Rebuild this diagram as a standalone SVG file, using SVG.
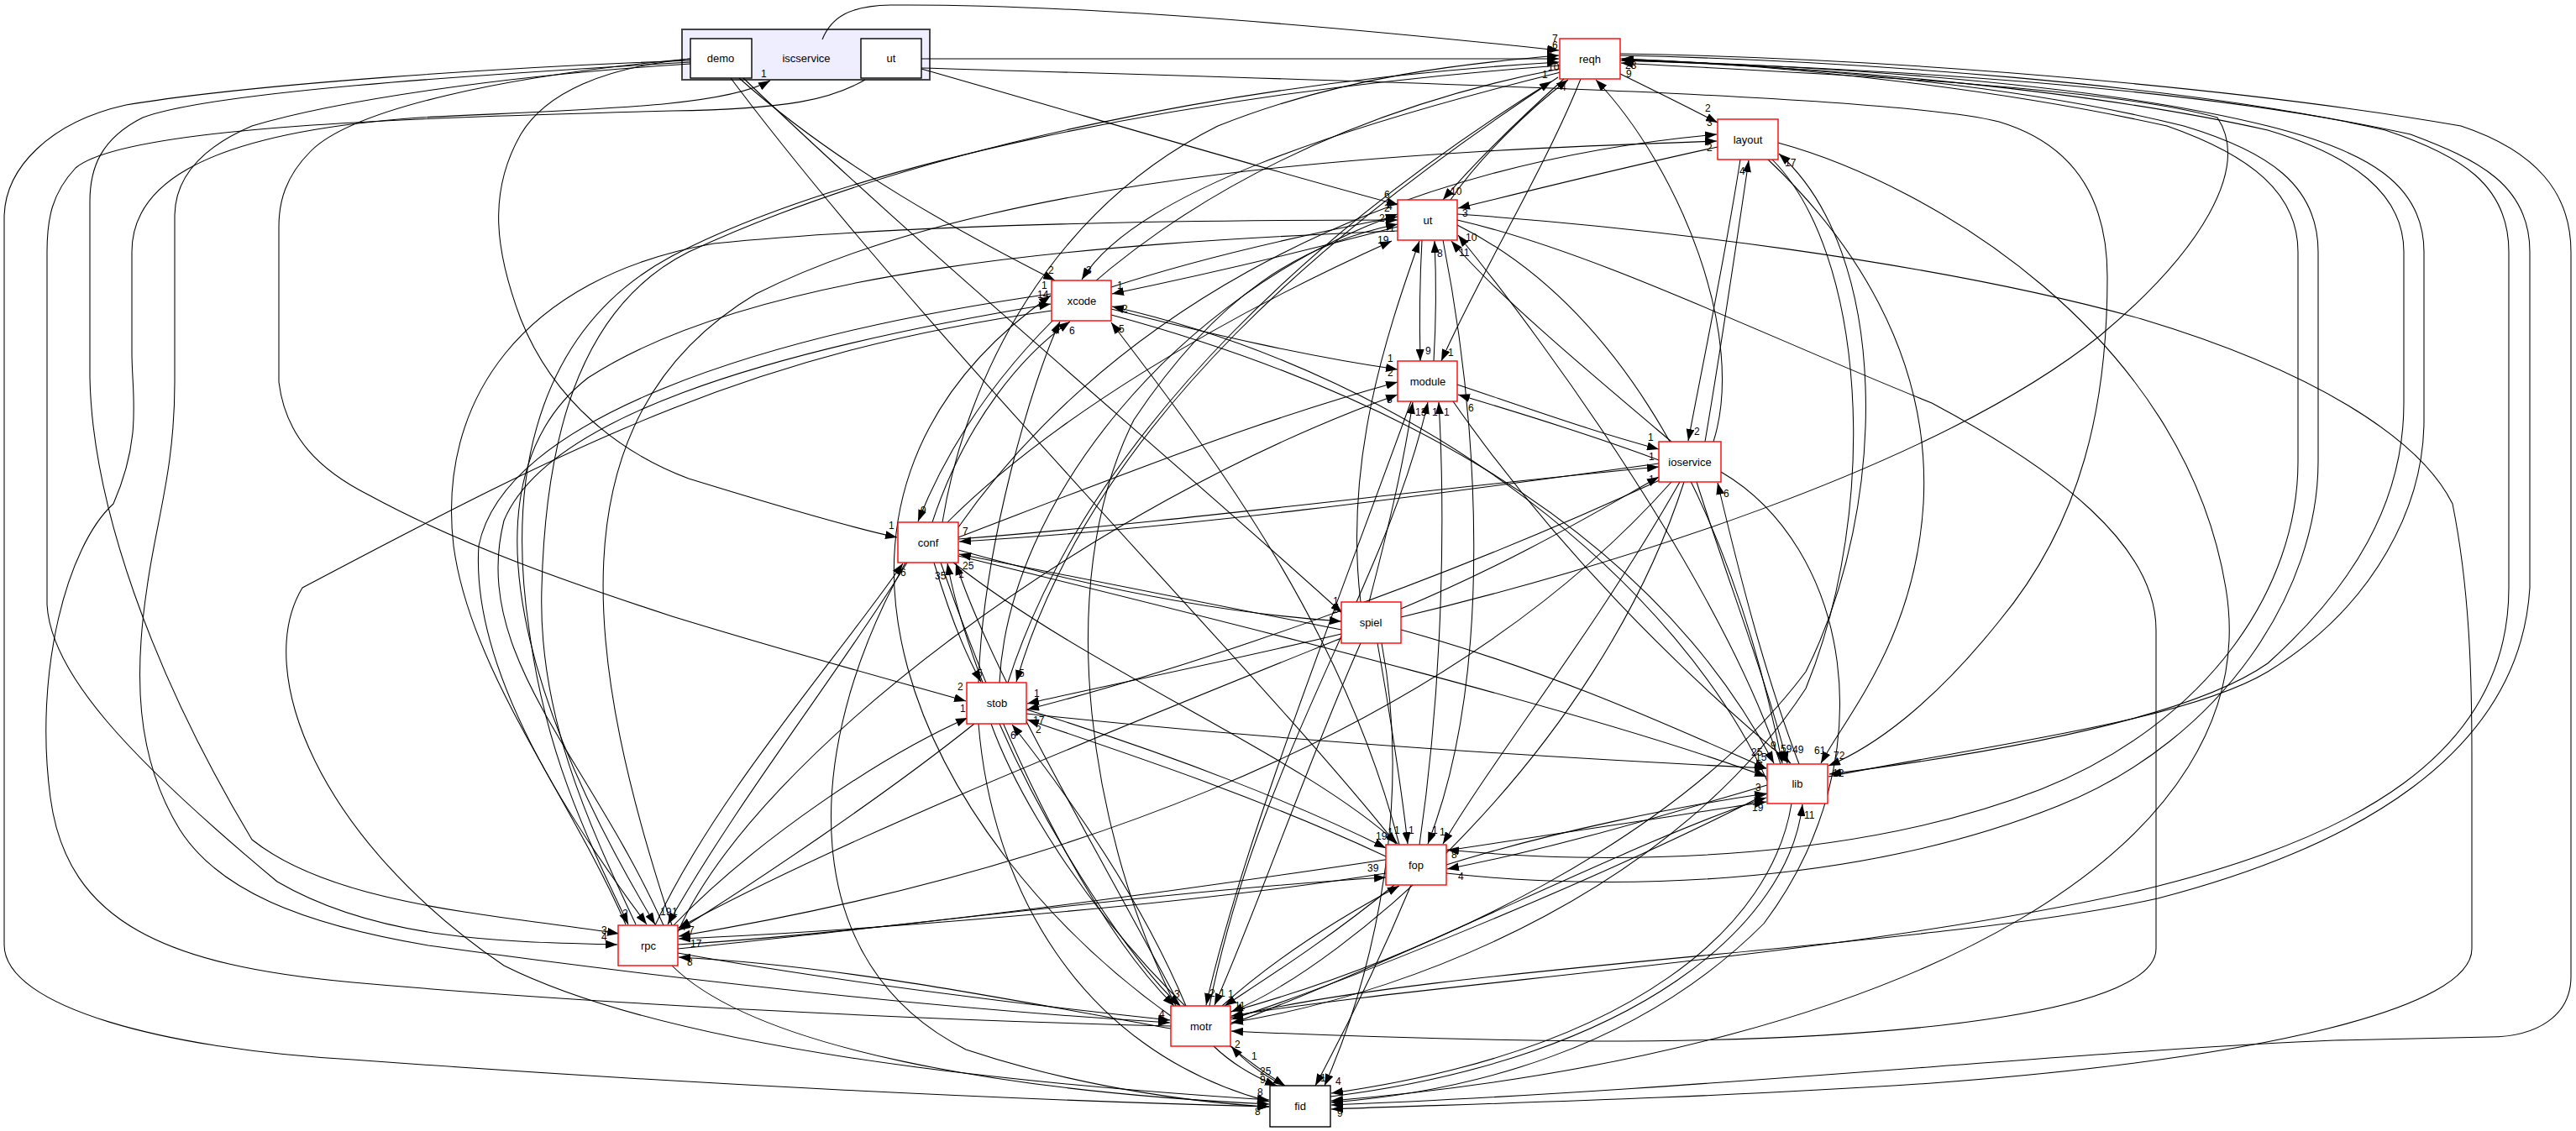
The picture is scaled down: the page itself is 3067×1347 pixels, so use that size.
<svg xmlns="http://www.w3.org/2000/svg" width="3067" height="1347" viewBox="0 0 3067 1347">
<style>
.e{fill:none;stroke:#000;stroke-width:1.05}
.l{font-family:"Liberation Sans",Arial,sans-serif;font-size:12px;fill:#000}
.n{fill:#fff;stroke:#ff0000;stroke-width:1.4}
.b{fill:#fff;stroke:#000;stroke-width:1.4}
.t{font-family:"Liberation Sans",Arial,sans-serif;font-size:13px;fill:#000;text-anchor:middle}
</style>
<defs>
<marker id="a" viewBox="0 0 14 10" refX="14" refY="5" markerWidth="14" markerHeight="10" markerUnits="userSpaceOnUse" orient="auto"><path d="M0,0 L14,5 L0,10 z" fill="#000"/></marker>
</defs>
<rect width="3067" height="1347" fill="#fff"/>
<g id="node-iscservice">
<rect x="812" y="35" width="295" height="60" fill="#eeeeff" stroke="#444" stroke-width="2"/>
<text class="t" x="960" y="74">iscservice</text>
</g>
<g id="connectors" marker-end="url(#a)">
<path class="e" d="M979,47 C990,20 1012,7 1060,6 C1300,4 1650,38 1856,60"/>
<path class="e" d="M1097,70 L1856,70"/>
<path class="e" d="M1097,82 C1300,140 1500,200 1665,244"/>
<path class="e" d="M1097,81 C1600,96 2250,112 2380,145 C2480,175 2509,250 2509,330 C2509,480 2480,620 2380,740 C2300,840 2230,890 2177,912"/>
<path class="e" d="M822,72 C600,80 300,100 150,125 C60,145 5,200 5,260 L5,1125 C5,1200 200,1250 420,1262 C800,1290 1200,1310 1511,1318"/>
<path class="e" d="M1030,95 C990,118 940,130 800,132 C500,140 150,150 90,200 C62,230 56,260 56,300 L56,720 C60,800 150,900 330,1050 C450,1120 600,1122 735,1125"/>
<path class="e" d="M822,74 C550,90 250,110 170,140 C120,165 107,200 107,240 L107,450 C110,600 180,800 300,1000 C400,1080 600,1090 737,1112"/>
<path class="e" d="M1394,1222 C1100,1215 700,1195 420,1170 C200,1150 80,1100 60,950 C40,800 80,650 135,600 C170,520 157,470 157,420 L157,300 C157,230 220,160 500,140 C700,130 860,128 917,96"/>
<path class="e" d="M822,76 C600,90 400,120 300,150 C230,180 208,220 208,258 L208,455 C208,560 186,620 175,700 C160,800 160,900 214,988 C260,1060 357,1100 510,1126 C800,1166 1100,1200 1393,1218"/>
<path class="e" d="M822,70 C600,90 420,130 370,180 C340,210 332,240 332,270 L332,455 C340,520 380,560 440,590 C550,650 684,696 800,734 C950,780 1080,815 1150,835"/>
<path class="e" d="M822,70 C720,80 650,110 620,160 C580,230 590,300 620,380 C660,480 740,540 820,570 C950,610 1020,630 1068,640"/>
<path class="e" d="M1929,88 C1970,108 2010,128 2045,146"/>
<path class="e" d="M1862,94 C1800,150 1750,200 1718,238"/>
<path class="e" d="M1727,238 C1760,190 1820,130 1867,95"/>
<path class="e" d="M1882,94 C1840,200 1760,330 1716,430"/>
<path class="e" d="M1200,813 C1300,500 1600,250 1847,97"/>
<path class="e" d="M1855,92 C1600,260 1300,500 1210,812"/>
<path class="e" d="M1112,670 C1130,730 1150,780 1168,812"/>
<path class="e" d="M1122,622 C1150,450 1250,250 1450,150 C1600,90 1750,75 1856,66"/>
<path class="e" d="M757,1101 C700,980 640,850 645,700 C650,500 700,360 820,300 C1100,170 1500,95 1856,74"/>
<path class="e" d="M1857,78 C1400,112 1000,200 800,305 C650,385 600,550 630,750 C650,900 700,1000 748,1101"/>
<path class="e" d="M1858,86 C1600,150 1350,230 1288,333"/>
<path class="e" d="M1857,82 C1500,150 1200,350 1093,621"/>
<path class="e" d="M2040,526 C2080,400 2000,200 1900,95"/>
<path class="e" d="M1668,735 C1900,680 2300,560 2500,400 C2620,300 2680,200 2640,140 C2500,100 2100,85 1930,75"/>
<path class="e" d="M1465,1212 C1700,1150 2300,1130 2569,1070 C2800,1010 3000,900 3012,700 L3012,300 C3012,220 2950,190 2870,160 C2600,100 2200,80 1931,72"/>
<path class="e" d="M1929,66 C2200,72 2600,100 2840,155 C2930,185 2987,220 2987,300 L2987,700 C2987,900 2800,1000 2550,1060 C2200,1140 1700,1170 1466,1210"/>
<path class="e" d="M2177,925 C2350,890 2600,860 2700,800 C2830,720 2886,600 2886,500 L2886,300 C2886,220 2820,180 2700,150 C2500,100 2200,80 1931,71"/>
<path class="e" d="M1929,72 C2200,80 2500,110 2700,155 C2800,185 2862,230 2862,300 L2862,480 C2862,600 2800,700 2700,790 C2600,860 2350,900 2178,922"/>
<path class="e" d="M1722,1040 C1900,1060 2200,1060 2450,960 C2650,880 2760,700 2760,550 L2760,300 C2760,220 2700,180 2600,150 C2400,100 2150,80 1931,70"/>
<path class="e" d="M1929,70 C2150,78 2400,110 2580,150 C2680,185 2736,230 2736,300 L2736,550 C2736,700 2630,860 2430,940 C2200,1030 1900,1030 1723,1012"/>
<path class="e" d="M1929,64 C2300,70 2700,110 2930,150 C3020,180 3061,230 3061,300 L3061,1163 C3061,1210 3020,1235 2964,1235 L2779,1239 C2500,1250 2000,1300 1585,1316"/>
<path class="e" d="M1735,255 C1950,270 2300,310 2550,380 C2750,440 2880,520 2920,600 C2940,700 2943,800 2943,900 L2943,1130 C2943,1200 2700,1260 2300,1290 C2000,1310 1700,1316 1585,1321"/>
<path class="e" d="M1735,262 C1900,300 2100,400 2300,480 C2450,560 2567,650 2567,750 L2567,1130 C2567,1200 2300,1240 1900,1240 C1700,1238 1550,1232 1466,1228"/>
<path class="e" d="M2045,175 C1930,200 1830,225 1736,248"/>
<path class="e" d="M2072,190 C2055,300 2030,420 2010,525"/>
<path class="e" d="M2030,526 C2048,420 2066,300 2082,191"/>
<path class="e" d="M2105,190 C2200,280 2300,420 2290,600 C2280,760 2200,850 2168,909"/>
<path class="e" d="M1141,628 C1300,400 1600,200 2044,160"/>
<path class="e" d="M800,1102 C700,800 650,500 900,350 C1200,200 1700,180 2044,168"/>
<path class="e" d="M1465,1205 C1700,1140 2000,1000 2150,800 C2250,600 2250,300 2118,183"/>
<path class="e" d="M2117,170 C2300,220 2600,400 2650,700 C2700,1000 2300,1250 1585,1311"/>
<path class="e" d="M2110,190 C2220,300 2240,600 2150,820 C2000,1050 1700,1180 1466,1218"/>
<path class="e" d="M1664,270 C1550,300 1420,330 1324,350"/>
<path class="e" d="M1323,342 C1420,310 1550,280 1664,258"/>
<path class="e" d="M1693,286 C1690,340 1690,390 1691,430"/>
<path class="e" d="M1707,430 C1710,380 1710,330 1708,287"/>
<path class="e" d="M1990,526 C1900,450 1780,350 1728,287"/>
<path class="e" d="M2120,910 C2050,700 1850,420 1736,280"/>
<path class="e" d="M1128,622 C1250,500 1450,380 1657,287"/>
<path class="e" d="M745,1101 C680,950 560,800 540,650 C520,480 620,330 850,290 C1100,265 1450,262 1664,262"/>
<path class="e" d="M1400,1198 C1300,1000 1250,700 1350,500 C1450,350 1550,290 1664,267"/>
<path class="e" d="M1190,813 C1200,600 1400,350 1664,255"/>
<path class="e" d="M1735,268 C1900,350 2050,550 2122,909"/>
<path class="e" d="M1718,286 C1760,500 1780,800 1700,1005"/>
<path class="e" d="M1664,275 C1300,290 900,320 700,450 C560,560 600,800 780,1101"/>
<path class="e" d="M880,93 C1000,200 1150,280 1256,334"/>
<path class="e" d="M1323,368 C1450,400 1560,425 1664,440"/>
<path class="e" d="M790,1102 C700,900 560,780 600,620 C650,500 900,420 1251,362"/>
<path class="e" d="M1394,1210 C1100,1000 900,600 1251,352"/>
<path class="e" d="M1165,813 C1170,650 1230,450 1262,383"/>
<path class="e" d="M1110,622 C1150,500 1220,420 1274,383"/>
<path class="e" d="M1180,862 C1230,1000 1380,1200 1530,1293"/>
<path class="e" d="M1666,1006 C1600,750 1450,550 1323,384"/>
<path class="e" d="M2104,930 C2000,700 1700,450 1324,365"/>
<path class="e" d="M1323,375 C1600,450 1950,600 2112,909"/>
<path class="e" d="M1252,370 C900,420 700,520 360,700 C300,800 380,1000 600,1150 C800,1250 1200,1290 1511,1310"/>
<path class="e" d="M1251,350 C900,400 600,500 570,650 C560,800 680,980 770,1101"/>
<path class="e" d="M1735,458 C1830,490 1900,515 1975,535"/>
<path class="e" d="M1975,548 C1900,520 1820,495 1736,470"/>
<path class="e" d="M1141,640 C1350,560 1500,500 1664,455"/>
<path class="e" d="M807,1110 C900,900 1300,600 1664,470"/>
<path class="e" d="M1630,717 C1650,640 1670,560 1682,479"/>
<path class="e" d="M1440,1198 C1500,900 1650,700 1700,479"/>
<path class="e" d="M1690,1006 C1720,800 1720,600 1713,479"/>
<path class="e" d="M1730,478 C1850,650 2000,800 2132,909"/>
<path class="e" d="M1680,478 C1600,700 1480,1000 1436,1197"/>
<path class="e" d="M1975,552 C1700,590 1400,630 1142,645"/>
<path class="e" d="M1141,642 C1400,622 1700,582 1975,556"/>
<path class="e" d="M1668,725 C1800,670 1900,610 1975,568"/>
<path class="e" d="M2020,574 C2060,700 2100,800 2128,909"/>
<path class="e" d="M2142,910 C2100,800 2070,680 2045,575"/>
<path class="e" d="M2000,574 C1900,750 1780,900 1718,1005"/>
<path class="e" d="M1990,574 C1700,900 1200,1050 808,1115"/>
<path class="e" d="M2049,562 C2200,650 2250,900 2100,1100 C1950,1250 1750,1300 1585,1313"/>
<path class="e" d="M2005,574 C1900,900 1600,1150 1466,1205"/>
<path class="e" d="M1980,570 C1700,700 1400,800 1223,845"/>
<path class="e" d="M1141,655 C1300,700 1450,730 1597,740"/>
<path class="e" d="M1597,750 C1450,722 1300,692 1142,660"/>
<path class="e" d="M1170,813 C1150,760 1135,710 1128,671"/>
<path class="e" d="M1405,1198 C1300,1000 1180,800 1138,671"/>
<path class="e" d="M780,1102 C850,950 1000,780 1075,671"/>
<path class="e" d="M1080,670 C1000,800 880,950 795,1101"/>
<path class="e" d="M1141,662 C1500,750 1900,850 2103,925"/>
<path class="e" d="M1135,670 C1300,800 1550,900 1664,1005"/>
<path class="e" d="M1120,670 C1200,900 1300,1100 1398,1198"/>
<path class="e" d="M1078,670 C950,900 950,1150 1150,1250 C1300,1300 1450,1315 1511,1318"/>
<path class="e" d="M1597,755 C1450,790 1300,820 1223,838"/>
<path class="e" d="M1668,750 C1850,800 2000,870 2103,915"/>
<path class="e" d="M1640,766 C1655,850 1670,950 1676,1005"/>
<path class="e" d="M1620,766 C1560,900 1490,1100 1446,1197"/>
<path class="e" d="M1645,766 C1680,950 1640,1150 1577,1293"/>
<path class="e" d="M1597,760 C1300,880 1000,1000 808,1105"/>
<path class="e" d="M1620,717 C1600,550 1650,400 1690,287"/>
<path class="e" d="M885,93 C1100,300 1400,550 1598,730"/>
<path class="e" d="M1222,850 C1500,880 1800,900 2103,915"/>
<path class="e" d="M1222,845 C1400,900 1550,960 1650,1010"/>
<path class="e" d="M1650,1020 C1500,950 1350,900 1223,857"/>
<path class="e" d="M1190,862 C1250,1000 1350,1150 1405,1198"/>
<path class="e" d="M1412,1198 C1350,1050 1250,920 1205,863"/>
<path class="e" d="M1165,862 C1180,1050 1280,1250 1511,1312"/>
<path class="e" d="M1160,862 C1050,950 900,1050 808,1108"/>
<path class="e" d="M800,1104 C900,1000 1050,900 1152,855"/>
<path class="e" d="M2133,957 C2110,1100 1950,1250 1585,1302"/>
<path class="e" d="M1584,1306 C1950,1260 2130,1100 2146,958"/>
<path class="e" d="M2104,945 C1900,1050 1600,1170 1466,1214"/>
<path class="e" d="M1465,1220 C1700,1130 1950,1000 2103,950"/>
<path class="e" d="M1722,1030 C1850,990 2000,960 2103,945"/>
<path class="e" d="M2104,935 C1950,980 1850,1010 1723,1035"/>
<path class="e" d="M807,1125 C1200,1100 1800,1000 2103,955"/>
<path class="e" d="M1650,1040 C1400,1080 1000,1110 808,1118"/>
<path class="e" d="M807,1130 C1100,1100 1400,1060 1650,1045"/>
<path class="e" d="M1660,1054 C1580,1120 1500,1170 1458,1198"/>
<path class="e" d="M1455,1198 C1520,1140 1600,1090 1666,1055"/>
<path class="e" d="M1680,1054 C1640,1150 1600,1230 1566,1293"/>
<path class="e" d="M870,93 C1100,400 1500,800 1662,1005"/>
<path class="e" d="M807,1135 C1000,1170 1250,1200 1393,1215"/>
<path class="e" d="M1394,1225 C1200,1190 1000,1150 808,1140"/>
<path class="e" d="M800,1150 C900,1250 1200,1300 1511,1315"/>
<path class="e" d="M1445,1246 C1470,1270 1500,1285 1520,1293"/>
<path class="e" d="M1528,1293 C1500,1278 1480,1262 1466,1246"/>
</g>
<g id="labels">
<text class="l" x="1848" y="50">7</text>
<text class="l" x="1842" y="64">4</text>
<text class="l" x="1648" y="236">6</text>
<text class="l" x="2183" y="904">72</text>
<text class="l" x="1494" y="1328">8</text>
<text class="l" x="716" y="1120">4</text>
<text class="l" x="716" y="1112">3</text>
<text class="l" x="906" y="92">1</text>
<text class="l" x="1380" y="1212">4</text>
<text class="l" x="1140" y="822">2</text>
<text class="l" x="1058" y="630">1</text>
<text class="l" x="2030" y="133">2</text>
<text class="l" x="1727" y="232">10</text>
<text class="l" x="1858" y="108">4</text>
<text class="l" x="1724" y="424">1</text>
<text class="l" x="1836" y="93">1</text>
<text class="l" x="1213" y="806">5</text>
<text class="l" x="1163" y="806">5</text>
<text class="l" x="1848" y="58">6</text>
<text class="l" x="1843" y="84">10</text>
<text class="l" x="741" y="1092">2</text>
<text class="l" x="1293" y="326">3</text>
<text class="l" x="1096" y="612">9</text>
<text class="l" x="1936" y="92">9</text>
<text class="l" x="1935" y="82">23</text>
<text class="l" x="1470" y="1202">11</text>
<text class="l" x="2182" y="925">12</text>
<text class="l" x="1728" y="1022">8</text>
<text class="l" x="1592" y="1330">9</text>
<text class="l" x="1470" y="1248">2</text>
<text class="l" x="1741" y="258">3</text>
<text class="l" x="2017" y="518">2</text>
<text class="l" x="2071" y="208">4</text>
<text class="l" x="2160" y="898">61</text>
<text class="l" x="2032" y="150">3</text>
<text class="l" x="2032" y="180">2</text>
<text class="l" x="2125" y="198">17</text>
<text class="l" x="1330" y="344">1</text>
<text class="l" x="1648" y="252">2</text>
<text class="l" x="1697" y="422">9</text>
<text class="l" x="1711" y="306">8</text>
<text class="l" x="1737" y="305">11</text>
<text class="l" x="1745" y="287">10</text>
<text class="l" x="1640" y="290">19</text>
<text class="l" x="1642" y="264">24</text>
<text class="l" x="1654" y="276">1</text>
<text class="l" x="1651" y="250">4</text>
<text class="l" x="2120" y="896">59</text>
<text class="l" x="1705" y="993">1</text>
<text class="l" x="786" y="1090">19</text>
<text class="l" x="1248" y="326">2</text>
<text class="l" x="1652" y="431">1</text>
<text class="l" x="1235" y="355">14</text>
<text class="l" x="1240" y="344">1</text>
<text class="l" x="1253" y="398">4</text>
<text class="l" x="1273" y="398">6</text>
<text class="l" x="1500" y="1290">9</text>
<text class="l" x="1332" y="396">5</text>
<text class="l" x="1336" y="372">2</text>
<text class="l" x="2108" y="892">9</text>
<text class="l" x="1497" y="1305">8</text>
<text class="l" x="800" y="1090">1</text>
<text class="l" x="1962" y="525">1</text>
<text class="l" x="1748" y="490">6</text>
<text class="l" x="1652" y="448">2</text>
<text class="l" x="1651" y="480">3</text>
<text class="l" x="1685" y="495">13</text>
<text class="l" x="1705" y="495">1</text>
<text class="l" x="1719" y="495">1</text>
<text class="l" x="2134" y="897">49</text>
<text class="l" x="1440" y="1187">2</text>
<text class="l" x="1146" y="637">7</text>
<text class="l" x="1963" y="548">1</text>
<text class="l" x="1963" y="575">1</text>
<text class="l" x="2052" y="592">6</text>
<text class="l" x="1714" y="995">1</text>
<text class="l" x="812" y="1108">7</text>
<text class="l" x="1230" y="862">17</text>
<text class="l" x="1586" y="730">1</text>
<text class="l" x="1146" y="678">25</text>
<text class="l" x="1113" y="690">35</text>
<text class="l" x="1141" y="688">1</text>
<text class="l" x="1072" y="686">6</text>
<text class="l" x="2092" y="916">7</text>
<text class="l" x="1660" y="993">1</text>
<text class="l" x="1398" y="1188">3</text>
<text class="l" x="1231" y="830">1</text>
<text class="l" x="2090" y="906">15</text>
<text class="l" x="1677" y="993">1</text>
<text class="l" x="1452" y="1187">1</text>
<text class="l" x="1590" y="1292">4</text>
<text class="l" x="822" y="1128">17</text>
<text class="l" x="1587" y="720">1</text>
<text class="l" x="2085" y="900">25</text>
<text class="l" x="1638" y="1000">19</text>
<text class="l" x="1233" y="873">2</text>
<text class="l" x="1203" y="880">6</text>
<text class="l" x="1143" y="848">1</text>
<text class="l" x="2148" y="975">11</text>
<text class="l" x="1472" y="1212">1</text>
<text class="l" x="2090" y="957">2</text>
<text class="l" x="2090" y="942">3</text>
<text class="l" x="1736" y="1048">4</text>
<text class="l" x="2086" y="966">19</text>
<text class="l" x="820" y="1112">7</text>
<text class="l" x="1628" y="1038">39</text>
<text class="l" x="1462" y="1188">1</text>
<text class="l" x="1572" y="1288">1</text>
<text class="l" x="1652" y="995">1</text>
<text class="l" x="818" y="1150">8</text>
<text class="l" x="1500" y="1280">25</text>
<text class="l" x="1490" y="1262">1</text>
</g>
<g id="node-demo"><rect class="b" x="822" y="46" width="73" height="47"/><text class="t" x="858" y="74">demo</text></g>
<g id="node-iscservice-ut"><rect class="b" x="1025" y="46" width="72" height="47"/><text class="t" x="1061" y="74">ut</text></g>
<g id="node-reqh"><rect class="n" x="1857" y="46" width="72" height="48"/><text class="t" x="1893" y="75">reqh</text></g>
<g id="node-layout"><rect class="n" x="2045" y="142" width="72" height="48"/><text class="t" x="2081" y="171">layout</text></g>
<g id="node-ut"><rect class="n" x="1664" y="238" width="71" height="48"/><text class="t" x="1700" y="267">ut</text></g>
<g id="node-xcode"><rect class="n" x="1252" y="334" width="71" height="48"/><text class="t" x="1288" y="363">xcode</text></g>
<g id="node-module"><rect class="n" x="1664" y="430" width="71" height="48"/><text class="t" x="1700" y="459">module</text></g>
<g id="node-ioservice"><rect class="n" x="1975" y="526" width="74" height="48"/><text class="t" x="2012" y="555">ioservice</text></g>
<g id="node-conf"><rect class="n" x="1069" y="622" width="72" height="48"/><text class="t" x="1105" y="651">conf</text></g>
<g id="node-spiel"><rect class="n" x="1597" y="717" width="71" height="49"/><text class="t" x="1632" y="746">spiel</text></g>
<g id="node-stob"><rect class="n" x="1151" y="813" width="71" height="49"/><text class="t" x="1187" y="842">stob</text></g>
<g id="node-lib"><rect class="n" x="2104" y="910" width="72" height="47"/><text class="t" x="2140" y="938">lib</text></g>
<g id="node-fop"><rect class="n" x="1650" y="1006" width="72" height="48"/><text class="t" x="1686" y="1035">fop</text></g>
<g id="node-rpc"><rect class="n" x="736" y="1102" width="71" height="48"/><text class="t" x="772" y="1131">rpc</text></g>
<g id="node-motr"><rect class="n" x="1394" y="1198" width="71" height="48"/><text class="t" x="1430" y="1227">motr</text></g>
<g id="node-fid"><rect class="b" x="1512" y="1293" width="72" height="49"/><text class="t" x="1548" y="1322">fid</text></g>
</svg>
